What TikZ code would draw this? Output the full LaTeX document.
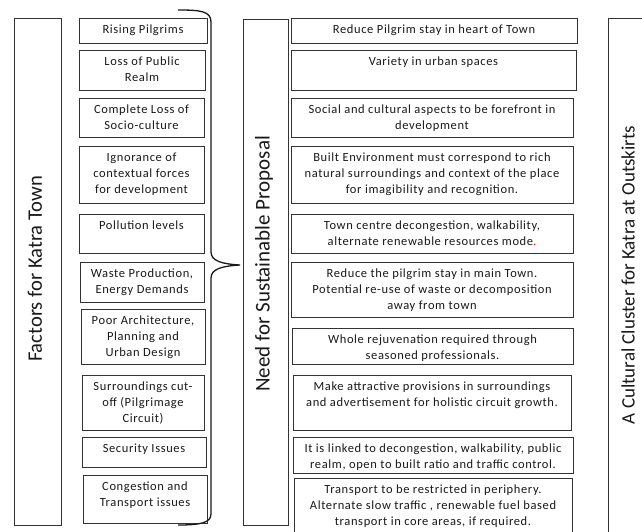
\documentclass[tikz,border=0pt]{standalone}
\usepackage{fontspec}
\setmainfont{Carlito}
\newfontfamily\boxfont[LetterSpace=5]{Carlito}
\begin{document}
\begin{tikzpicture}[x=1pt,y=-1pt,
  tbox/.style={draw=black!80, line width=0.8pt, inner sep=0pt, outer sep=0pt,
    font=\boxfont\fontsize{12.5}{16}\selectfont, text=black!90},
  tall/.style={draw=black!80, line width=0.8pt, inner sep=0pt, anchor=north west},
  talltext/.style={rotate=90, text=black!90},
  bracestyle/.style={draw=black!90, line width=1.3pt}]
\clip (0,0) rectangle (642,532);
\fill[white] (0,0) rectangle (642,532);

\newcommand{\tb}[6]{\node[tbox, anchor=north west] (#1) at (#2,#3)
  {\parbox[t][\dimexpr#5pt-#3pt\relax][t]{\dimexpr#4pt-#2pt\relax}{\centering\rule{0pt}{15.5pt}#6}};}
\newcommand{\tallbox}[5]{\node[tall, minimum width=\dimexpr#4pt-#2pt\relax,
  minimum height=\dimexpr#5pt-#3pt\relax] (#1) at (#2,#3) {};}

% tall boxes
\tallbox{T1}{14}{18}{61}{525}
\tallbox{T2}{243}{19}{288}{525}
\tallbox{T3}{608}{18}{680}{570}
\node[talltext, font=\fontsize{20.6}{24}\selectfont] (T1t) at (35,269) {Factors for Katra Town};
\node[talltext, font=\fontsize{21}{24}\selectfont] (T2t) at (264,264) {Need for Sustainable Proposal};
\node[talltext, font=\fontsize{19}{24}\selectfont] (T3t) at (628,275) {A Cultural Cluster for Katra at Outskirts};

% left column
\tb{L1}{79}{18}{207}{43}{Rising Pilgrims}
\tb{L2}{79}{50}{205}{90}{Loss of Public\\Realm}
\tb{L3}{79}{98}{204}{137}{Complete Loss of\\Socio-culture}
\tb{L4}{79}{146}{204}{203}{Ignorance of\\contextual forces\\for development}
\tb{L5}{79}{214}{204}{253}{Pollution levels}
\tb{L6}{80}{262}{204}{302}{Waste Production,\\Energy Demands}
\tb{L7}{81}{309}{205}{364}{Poor Architecture,\\Planning and\\Urban Design}
\tb{L8}{82}{375}{204}{430}{Surroundings cut-\\off (Pilgrimage\\Circuit)}
\tb{L9}{82}{437}{206}{467}{Security Issues}
\tb{L10}{83}{475}{207}{523}{Congestion and\\Transport issues}

% right column
\tb{R1}{291}{18}{577}{43}{Reduce Pilgrim stay in heart of Town}
\tb{R2}{291}{50}{576}{90}{Variety in urban spaces}
\tb{R3}{291}{98}{573}{137}{Social and cultural aspects to be forefront in\\development}
\tb{R4}{291}{146}{573}{203}{Built Environment must correspond to rich\\natural surroundings and context of the place\\for imagibility and recognition.}
\tb{R5}{291}{214}{573}{253}{Town centre decongestion, walkability,\\alternate renewable resources mode{\color{red}.}}
\tb{R6}{291}{262}{573}{317}{Reduce the pilgrim stay in main Town.\\Potential re-use of waste or decomposition\\away from town}
\tb{R7}{292}{328}{573}{364}{Whole rejuvenation required through\\seasoned professionals.}
\tb{R8}{293}{375}{571}{430}{Make attractive provisions in surroundings\\and advertisement for holistic circuit growth.}
\tb{R9}{293}{437}{573}{473}{It is linked to decongestion, walkability, public\\realm, open to built ratio and traffic control.}
\tb{R10}{294}{478}{572}{560}{Transport to be restricted in periphery.\\Alternate slow traffic , renewable fuel based\\transport in core areas, if required.}

% brace
\coordinate (btip) at (240,265);
\draw[bracestyle] (178,10) .. controls (200,10) and (211,11) .. (211,22)
  -- (211,252) .. controls (211,261) and (222,264) .. (btip)
  .. controls (222,266) and (211,269) .. (211,278)
  -- (211,514) .. controls (211,523) and (200,525) .. (178,525);
\end{tikzpicture}
\end{document}
